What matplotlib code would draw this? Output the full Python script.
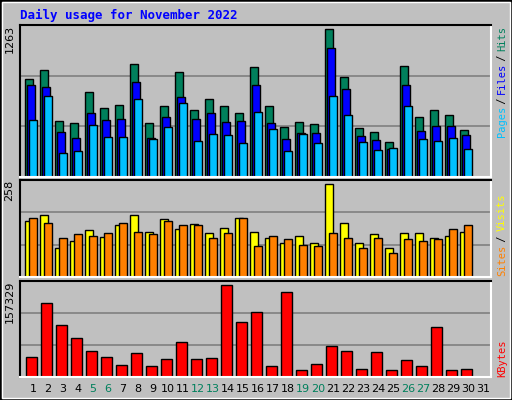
import matplotlib
matplotlib.use('Agg')
from matplotlib import pyplot as plt
from matplotlib.patches import Rectangle
import numpy as np

days = list(range(1, 32))
weekend = [5, 6, 12, 13, 19, 20, 26, 27]

hits = [834, 911, 483, 466, 723, 586, 620, 963, 466, 611, 894, 569, 663, 603, 551,
        937, 603, 431, 474, 457, 1263, 851, 423, 389, 303, 946, 509, 569, 526, 406]
files = [783, 766, 389, 337, 551, 491, 500, 809, 337, 509, 680, 500, 551, 474, 483,
         791, 466, 329, 380, 380, 1100, 749, 354, 320, 243, 791, 397, 440, 440, 363]
pages = [491, 697, 209, 226, 449, 346, 346, 663, 329, 431, 629, 311, 371, 363, 294,
         560, 414, 226, 371, 294, 697, 534, 303, 234, 251, 603, 329, 311, 337, 243]
visits = [154, 171, 81, 101, 129, 112, 143, 171, 126, 160, 132, 146, 121, 135, 163,
          126, 109, 93, 115, 95, 258, 151, 93, 118, 81, 121, 123, 107, 115, 126]
sites = [163, 151, 107, 118, 115, 121, 149, 126, 118, 154, 143, 143, 109, 123, 163,
         87, 115, 104, 90, 87, 123, 107, 81, 109, 67, 104, 101, 104, 132, 143]
kbytes = [34578, 126210, 88174, 67427, 44951, 34578, 20747, 41494, 19018, 31120,
          60512, 31120, 32849, 157329, 93361, 110650, 19018, 145228, 12102, 22476,
          53596, 44951, 13831, 43223, 12102, 29391, 19018, 84716, 12102, 13831]

BG = '#c0c0c0'
W, H = 512, 400
fig = plt.figure(figsize=(5.12, 4.0), dpi=100, facecolor=BG)
mono = 'DejaVu Sans Mono'

# outer frame
fig.patches.append(Rectangle((0, 0), 1, 1, transform=fig.transFigure, fill=False,
                             edgecolor='black', linewidth=2))
fig.patches.append(Rectangle((2 / W, 2 / H), 1 - 4 / W, 1 - 4 / H, transform=fig.transFigure,
                             fill=False, edgecolor='white', linewidth=1))

PX = 15.0
x0 = 1 - 5.3 / PX
x1 = x0 + 471 / PX
n = len(hits)
d = np.arange(1, n + 1)


def panel(top, bottom, ymax):
    ax = fig.add_axes([20 / W, 1 - bottom / H, 471 / W, (bottom - top) / H])
    ax.set_facecolor(BG)
    ax.set_xlim(x0, x1)
    ax.set_ylim(0, ymax)
    ax.set_xticks([])
    ax.set_yticks([])
    for s in ['left', 'top']:
        ax.spines[s].set_color('black')
    for s in ['right', 'bottom']:
        ax.spines[s].set_color('white')
    for sp in ax.spines.values():
        sp.set_linewidth(1.5)
    for f in (1 / 3, 2 / 3):
        ax.axhline(ymax * f, color='#808080', linewidth=1.2, zorder=0)
    return ax


ec = dict(edgecolor='black', linewidth=1, align='edge')

ax1 = panel(25, 177, 1300)
ax1.bar(d, hits, width=7.3 / PX, color='#00805c', **ec)
ax1.bar(d + 2 / PX, files, width=7.3 / PX, color='#0000ff', **ec)
ax1.bar(d + 4 / PX, pages, width=7.3 / PX, color='#00c0ff', **ec)

ax2 = panel(180, 277, 269)
ax2.bar(d, visits, width=7.3 / PX, color='#ffff00', **ec)
ax2.bar(d + 3.3 / PX, sites, width=8 / PX, color='#ff8000', **ec)

ax3 = panel(281, 377, 164245)
ax3.bar(d + 1 / PX, kbytes, width=10.3 / PX, color='#ff0000', **ec)

# day labels
for day in days:
    c = '#00805c' if day in weekend else 'black'
    ax3.text(day + 0.51, -0.13, str(day), transform=ax3.get_xaxis_transform(),
             ha='center', va='center', fontsize=8, color=c)

# left max labels
for ax, lab in ((ax1, '1263'), (ax2, '258'), (ax3, '157329')):
    ax.text(-0.012, 1.0, lab, transform=ax.transAxes, rotation=90, ha='right', va='top',
            fontsize=8)


# right side legends (bottom to top)
def side_label(parts, ybot, step=5.4):
    y = ybot
    for txt, col in parts:
        fig.text(502 / W, y / H, txt, rotation=90, ha='center', va='bottom',
                 color=col, fontsize=7.5, family=mono)
        y += len(txt) * step


side_label([('Pages', '#00c0ff'), (' / ', 'black'), ('Files', '#0000ff'),
            (' / ', 'black'), ('Hits', '#00805c')], 400 - 137)
side_label([('Sites', '#ff8000'), (' / ', 'black'), ('Visits', '#ffff00')], 400 - 276, 5.6)
side_label([('KBytes', '#ff0000')], 400 - 377, 6.0)

fig.text(20 / W, 1 - 15 / H, 'Daily usage for November 2022', color='#0000ff',
         fontsize=9, fontweight='bold', family=mono, va='center', ha='left')

fig.savefig('out.png', dpi=100, facecolor=BG)
